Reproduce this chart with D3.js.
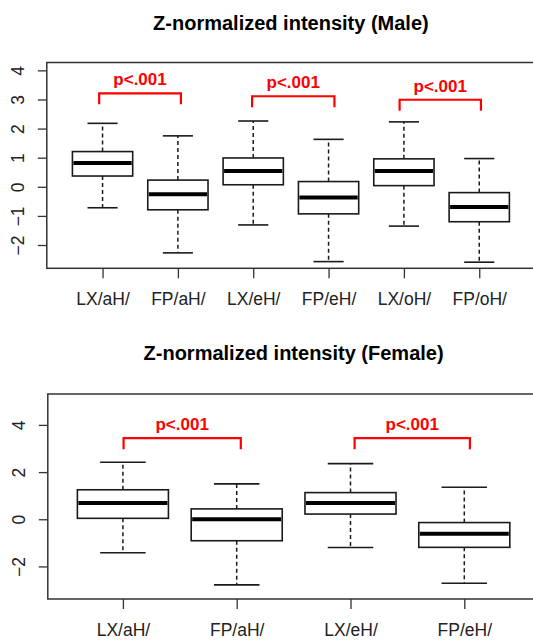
<!DOCTYPE html>
<html>
<head>
<meta charset="utf-8">
<script src="https://cdn.jsdelivr.net/npm/d3@7"></script>
<style>
  html, body { margin: 0; padding: 0; background: #fff; }
  svg { display: block; }
  text { font-family: "Liberation Sans", Arial, sans-serif; }
</style>
</head>
<body>
<svg id="chart" width="533" height="640"></svg>
<script>
// ---------- DATA ----------
const maleTitle = "Z-normalized intensity (Male)";
const maleCategories = ["LX/aH/", "FP/aH/", "LX/eH/", "FP/eH/", "LX/oH/", "FP/oH/"];
const maleLowerWhisker = [-0.72, -2.27, -1.31, -2.57, -1.35, -2.59];
const maleQ1           = [ 0.37, -0.79,  0.07, -0.93,  0.04, -1.20];
const maleMedian       = [ 0.82, -0.26,  0.54, -0.37,  0.54, -0.69];
const maleQ3           = [ 1.21,  0.23,  0.99,  0.18,  0.96, -0.20];
const maleUpperWhisker = [ 2.18,  1.75,  2.26,  1.63,  2.23,  0.97];
const maleTicks = [-2, -1, 0, 1, 2, 3, 4];
const maleYDomain = [-2.80, 4.27];
const maleBracketStart = [0.955, 2.985, 4.943];
const maleBracketEnd   = [2.04, 4.078, 6.022];
const maleBracketTop   = [3.21, 3.11, 2.99];
const maleBracketLeg   = [2.84, 2.73, 2.61];
const maleBracketLabel = ["p<.001", "p<.001", "p<.001"];

const femaleTitle = "Z-normalized intensity (Female)";
const femaleCategories = ["LX/aH/", "FP/aH/", "LX/eH/", "FP/eH/"];
const femaleLowerWhisker = [-1.42, -2.78, -1.20, -2.71];
const femaleQ1           = [ 0.04, -0.91,  0.22, -1.19];
const femaleMedian       = [ 0.69,  0.00,  0.69, -0.61];
const femaleQ3           = [ 1.25,  0.44,  1.13, -0.14];
const femaleUpperWhisker = [ 2.42,  1.50,  2.36,  1.36];
const femaleTicks = [-2, 0, 2, 4];
const femaleYDomain = [-3.38, 5.31];
const femaleBracketStart = [1.006, 3.036];
const femaleBracketEnd   = [2.036, 4.049];
const femaleBracketTop   = [3.44, 3.44];
const femaleBracketLeg   = [2.97, 2.97];
const femaleBracketLabel = ["p<.001", "p<.001"];

// ---------- DRAWING ----------
const svg = d3.select("#chart");
const ink = "#1a1a1a";
const red = "#ff0000";

function panel(cfg) {
  const n = cfg.categories.length;
  const pad = 0.04 * n;
  const x = d3.scaleLinear().domain([0.5 - pad, n + 0.5 + pad]).range([cfg.left, cfg.right]);
  const y = d3.scaleLinear().domain(cfg.yDomain).range([cfg.bottom, cfg.top]);
  const g = svg.append("g");

  // title
  g.append("text")
    .attr("x", (cfg.left + cfg.right) / 2)
    .attr("y", cfg.titleY)
    .attr("text-anchor", "middle")
    .attr("font-size", 20)
    .attr("font-weight", "bold")
    .attr("fill", "#000")
    .text(cfg.title);

  // frame
  g.append("rect")
    .attr("x", x.range()[0]).attr("y", y.range()[1])
    .attr("width", x.range()[1] - x.range()[0])
    .attr("height", y.range()[0] - y.range()[1])
    .attr("fill", "none").attr("stroke", "#333").attr("stroke-width", 1.5);

  // y axis
  const ya = g.append("g").attr("transform", `translate(${cfg.left},0)`)
    .call(d3.axisLeft(y).tickValues(cfg.ticks).tickSize(9).tickSizeOuter(0).tickFormat(d3.format("d")));
  ya.select(".domain").remove();
  ya.selectAll(".tick line").attr("stroke", "#333").attr("stroke-width", 1.3);
  ya.selectAll(".tick text")
    .attr("transform", "rotate(-90)")
    .attr("x", 0).attr("y", -23).attr("dy", 0)
    .attr("text-anchor", "middle")
    .attr("font-size", 17.5)
    .attr("font-family", "Liberation Sans, Arial, sans-serif")
    .attr("fill", "#222");

  // x axis
  const positions = cfg.categories.map((c, i) => i + 1);
  const xa = g.append("g").attr("transform", `translate(0,${cfg.bottom})`)
    .call(d3.axisBottom(x).tickValues(positions).tickSize(10).tickSizeOuter(0)
      .tickFormat((d) => cfg.categories[d - 1]));
  xa.select(".domain").remove();
  xa.selectAll(".tick line").attr("stroke", "#333").attr("stroke-width", 1.3);
  xa.selectAll(".tick text")
    .attr("y", cfg.labelOffset).attr("dy", 0)
    .attr("font-size", 17.5)
    .attr("font-family", "Liberation Sans, Arial, sans-serif")
    .attr("fill", "#222");

  // boxes
  const boxW = 0.8, capW = 0.4;
  const data = cfg.categories.map((c, i) => ({
    pos: i + 1, lo: cfg.lower[i], q1: cfg.q1[i], med: cfg.median[i], q3: cfg.q3[i], hi: cfg.upper[i]
  }));
  const bg = g.selectAll("g.box").data(data).join("g").attr("class", "box");
  bg.append("line")
    .attr("x1", (d) => x(d.pos)).attr("x2", (d) => x(d.pos))
    .attr("y1", (d) => y(d.q3)).attr("y2", (d) => y(d.hi))
    .attr("stroke", ink).attr("stroke-width", 1.5).attr("stroke-dasharray", "4,3");
  bg.append("line")
    .attr("x1", (d) => x(d.pos)).attr("x2", (d) => x(d.pos))
    .attr("y1", (d) => y(d.q1)).attr("y2", (d) => y(d.lo))
    .attr("stroke", ink).attr("stroke-width", 1.5).attr("stroke-dasharray", "4,3");
  bg.append("line")
    .attr("x1", (d) => x(d.pos - capW / 2)).attr("x2", (d) => x(d.pos + capW / 2))
    .attr("y1", (d) => y(d.hi)).attr("y2", (d) => y(d.hi))
    .attr("stroke", ink).attr("stroke-width", 1.6);
  bg.append("line")
    .attr("x1", (d) => x(d.pos - capW / 2)).attr("x2", (d) => x(d.pos + capW / 2))
    .attr("y1", (d) => y(d.lo)).attr("y2", (d) => y(d.lo))
    .attr("stroke", ink).attr("stroke-width", 1.6);
  bg.append("rect")
    .attr("x", (d) => x(d.pos - boxW / 2))
    .attr("width", (d) => x(d.pos + boxW / 2) - x(d.pos - boxW / 2))
    .attr("y", (d) => y(d.q3))
    .attr("height", (d) => y(d.q1) - y(d.q3))
    .attr("fill", "#fff").attr("stroke", ink).attr("stroke-width", 1.6);
  bg.append("line")
    .attr("x1", (d) => x(d.pos - boxW / 2) + 1).attr("x2", (d) => x(d.pos + boxW / 2) - 1)
    .attr("y1", (d) => y(d.med)).attr("y2", (d) => y(d.med))
    .attr("stroke", "#000").attr("stroke-width", 4);

  // brackets
  const br = cfg.bStart.map((s, i) => ({ s, e: cfg.bEnd[i], top: cfg.bTop[i], leg: cfg.bLeg[i], label: cfg.bLabel[i] }));
  const bk = g.selectAll("g.bracket").data(br).join("g").attr("class", "bracket");
  bk.append("path")
    .attr("d", (d) => `M${x(d.s)},${y(d.leg)}V${y(d.top)}H${x(d.e)}V${y(d.leg)}`)
    .attr("fill", "none").attr("stroke", red).attr("stroke-width", 2.2);
  bk.append("text")
    .attr("x", (d) => (x(d.s) + x(d.e)) / 2)
    .attr("y", (d) => y(d.top) - 8)
    .attr("text-anchor", "middle")
    .attr("font-size", 17).attr("font-weight", "bold")
    .attr("fill", red)
    .text((d) => d.label);
}

panel({
  title: maleTitle, titleY: 30,
  categories: maleCategories,
  lower: maleLowerWhisker, q1: maleQ1, median: maleMedian, q3: maleQ3, upper: maleUpperWhisker,
  ticks: maleTicks, yDomain: maleYDomain,
  bStart: maleBracketStart, bEnd: maleBracketEnd, bTop: maleBracketTop, bLeg: maleBracketLeg, bLabel: maleBracketLabel,
  left: 46.8, right: 535, top: 62.5, bottom: 268.3, labelOffset: 36.5
});

panel({
  title: femaleTitle, titleY: 360,
  categories: femaleCategories,
  lower: femaleLowerWhisker, q1: femaleQ1, median: femaleMedian, q3: femaleQ3, upper: femaleUpperWhisker,
  ticks: femaleTicks, yDomain: femaleYDomain,
  bStart: femaleBracketStart, bEnd: femaleBracketEnd, bTop: femaleBracketTop, bLeg: femaleBracketLeg, bLabel: femaleBracketLabel,
  left: 47.8, right: 539.4, top: 394, bottom: 599, labelOffset: 36.5
});
</script>
</body>
</html>
